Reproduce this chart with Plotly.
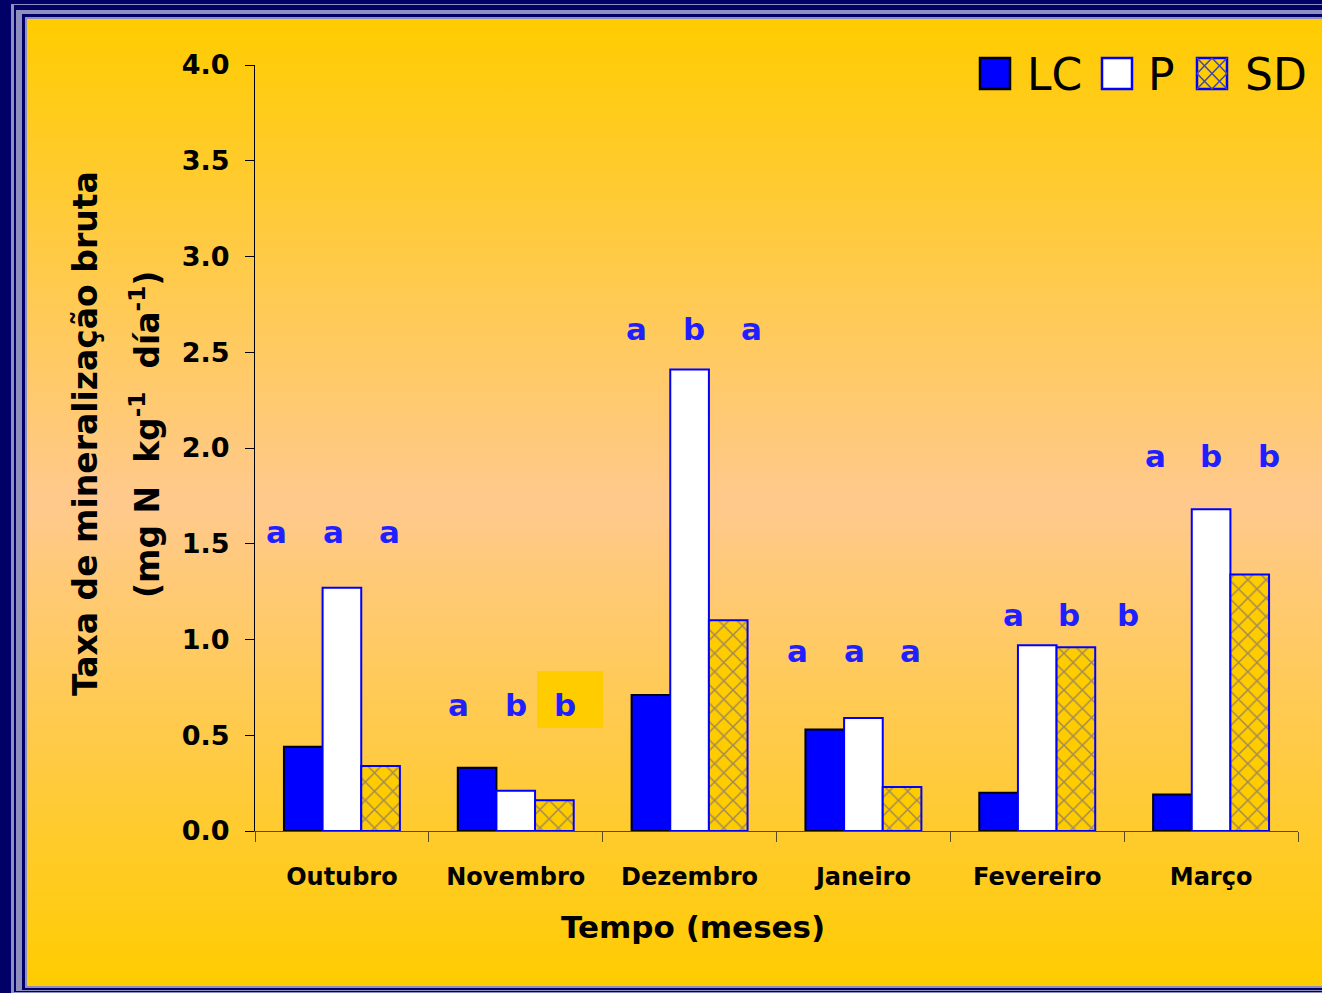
import base64
import plotly.graph_objects as go

# --- data -------------------------------------------------------------
meses = ["Outubro", "Novembro", "Dezembro", "Janeiro", "Fevereiro", "Março"]
lc = [0.44, 0.33, 0.71, 0.53, 0.20, 0.19]
p = [1.27, 0.21, 2.41, 0.59, 0.97, 1.68]
sd = [0.34, 0.16, 1.10, 0.23, 0.96, 1.34]

# significance letters per month (LC, P, SD)
letras = [
    ["a", "a", "a"],
    ["a", "b", "b"],
    ["a", "b", "a"],
    ["a", "a", "a"],
    ["a", "b", "b"],
    ["a", "b", "b"],
]
# letter placement (x offset from month centre, in category units; y in data units)
letras_dx = [
    [-0.374, -0.046, 0.276],
    [-0.33, 0.0, 0.284],
    [-0.305, 0.023, 0.356],
    [-0.379, -0.052, 0.27],
    [-0.138, 0.184, 0.523],
    [-0.322, 0.0, 0.333],
]
letras_y = [1.56, 0.66, 2.62, 0.94, 1.13, 1.96]

# --- geometry helpers (figure pixels -> paper coords) ----------------
W, H = 1322, 993
ML, MR, MT, MB = 255, 24, 65, 162
PW, PH = W - ML - MR, H - MT - MB


def px(x):
    return (x - ML) / PW


def py(y):
    return (H - MB - y) / PH


BLUE = "#0000FF"
NAVY = "#000066"
GREY = "#8F8FBF"
GOLD = "#FFCC00"
HATCH = "#4646A8"
TXT_BLUE = "#1F1FFF"
WIDE = "Comic Sans MS, DejaVu Sans, sans-serif"
BOLD = "DejaVu Sans, Verdana, sans-serif"

# background: framed slide with vertical gold/peach gradient
svg = f"""<svg xmlns="http://www.w3.org/2000/svg" width="{W}" height="{H}" viewBox="0 0 {W} {H}" preserveAspectRatio="none">
<defs><linearGradient id="g" x1="0" y1="0" x2="0" y2="1">
<stop offset="0" stop-color="#FFCC00"/><stop offset="0.5" stop-color="#FFC98E"/><stop offset="1" stop-color="#FFCC00"/>
</linearGradient></defs>
<rect x="0" y="0" width="{W}" height="{H}" fill="{NAVY}"/>
<rect x="11" y="4" width="1400" height="989" fill="{GREY}"/>
<rect x="14" y="5" width="1400" height="987" fill="{NAVY}"/>
<rect x="16" y="10" width="1400" height="981" fill="{GREY}"/>
<rect x="22" y="14" width="1400" height="976" fill="{NAVY}"/>
<rect x="25" y="17" width="1400" height="971" fill="{GREY}"/>
<rect x="27" y="19" width="1400" height="967" fill="url(#g)"/>
</svg>"""
bg_src = "data:image/svg+xml;base64," + base64.b64encode(svg.encode()).decode()

fig = go.Figure()

fig.add_trace(go.Bar(
    name="LC", x=meses, y=lc,
    marker=dict(color=BLUE, line=dict(color="black", width=2)),
))
fig.add_trace(go.Bar(
    name="P", x=meses, y=p,
    marker=dict(color="white", line=dict(color=BLUE, width=2)),
))
fig.add_trace(go.Bar(
    name="SD", x=meses, y=sd,
    marker=dict(
        color=GOLD,
        line=dict(color=BLUE, width=2),
        pattern=dict(shape="x", fgcolor=HATCH, bgcolor=GOLD, size=13, solidity=0.22),
    ),
))

annotations = []
for i, (trio, dxs, yy) in enumerate(zip(letras, letras_dx, letras_y)):
    for letra, dx in zip(trio, dxs):
        annotations.append(dict(
            x=i + dx, y=yy, xref="x", yref="y", text=letra, showarrow=False,
            font=dict(family=WIDE, size=31, color=TXT_BLUE, weight="bold"),
            xanchor="center", yanchor="middle",
        ))

# axis titles
annotations.append(dict(
    x=px(693), y=py(927), xref="paper", yref="paper", text="Tempo (meses)", showarrow=False,
    font=dict(family=WIDE, size=31, color="black", weight="bold"), xanchor="center", yanchor="middle",
))
annotations.append(dict(
    x=px(85), y=py(434), xref="paper", yref="paper", text="Taxa de mineralização bruta",
    showarrow=False, textangle=-90,
    font=dict(family=WIDE, size=33, color="black", weight="bold"), xanchor="center", yanchor="middle",
))
annotations.append(dict(
    x=px(145), y=py(435), xref="paper", yref="paper",
    text="(mg N  kg<sup>-1</sup>  día<sup>-1</sup>)",
    showarrow=False, textangle=-90,
    font=dict(family=WIDE, size=33, color="black", weight="bold"), xanchor="center", yanchor="middle",
))

# legend (drawn as shapes + text so swatches can be large)
shapes = []
sw_top, sw_bot = 58, 89
swatches = [
    ("LC", 980, 1010, 1025),
    ("P", 1102, 1132, 1146),
    ("SD", 1197, 1227, 1243),
]
for name, x0, x1, tx in swatches:
    if name == "LC":
        fill, line = BLUE, dict(color="black", width=2.5)
    elif name == "P":
        fill, line = "white", dict(color=BLUE, width=2.5)
    else:
        fill, line = GOLD, dict(color=BLUE, width=2.5)
    shapes.append(dict(type="rect", xref="paper", yref="paper",
                       x0=px(x0), x1=px(x1), y0=py(sw_bot), y1=py(sw_top),
                       fillcolor=fill, line=line, layer="above"))
    if name == "SD":
        s = x1 - x0
        h = sw_bot - sw_top
        segs = []
        for k in (0.5, 1.0, 1.5):
            # "/" diagonals
            ax, ay = x0 + max(0, k - 1) * s, sw_top + min(k, 1) * h
            bx, by = x0 + min(k, 1) * s, sw_top + max(0, k - 1) * h
            segs.append(f"M{px(ax)},{py(ay)} L{px(bx)},{py(by)}")
            # "\" diagonals
            ax, ay = x0 + max(0, k - 1) * s, sw_bot - min(k, 1) * h
            bx, by = x0 + min(k, 1) * s, sw_bot - max(0, k - 1) * h
            segs.append(f"M{px(ax)},{py(ay)} L{px(bx)},{py(by)}")
        shapes.append(dict(type="path", xref="paper", yref="paper", path=" ".join(segs),
                           line=dict(color=HATCH, width=1.5), layer="above"))
    annotations.append(dict(
        x=px(tx), y=py(75), xref="paper", yref="paper", text=name, showarrow=False,
        font=dict(family=WIDE, size=44, color="black"), xanchor="left", yanchor="middle",
    ))

# highlight box behind a letter in Novembro
shapes.append(dict(type="rect", xref="x", yref="y", x0=1.123, x1=1.502, y0=0.538, y1=0.836,
                   fillcolor=GOLD, line=dict(width=0), layer="below"))

fig.update_layout(
    width=W, height=H,
    margin=dict(l=ML, r=MR, t=MT, b=MB, pad=0),
    paper_bgcolor=NAVY,
    plot_bgcolor="rgba(0,0,0,0)",
    barmode="group",
    bargap=0.333,
    bargroupgap=0,
    showlegend=False,
    images=[dict(source=bg_src, xref="paper", yref="paper",
                 x=px(0), y=py(0), sizex=W / PW, sizey=H / PH,
                 xanchor="left", yanchor="top", sizing="stretch", layer="below")],
    shapes=shapes,
    annotations=annotations,
    xaxis=dict(
        type="category", showgrid=False, zeroline=False,
        showline=True, linecolor="#5A4A22", linewidth=1,
        ticks="outside", tickson="boundaries", ticklen=10, tickcolor="#5A4A22", tickwidth=1,
        ticklabelstandoff=24,
        tickfont=dict(family=BOLD, size=24, color="black", weight="bold"),
        range=[-0.5, 5.5],
    ),
    yaxis=dict(
        range=[0, 4], dtick=0.5, tickformat=".1f", showgrid=False, zeroline=False,
        showline=True, linecolor="black", linewidth=1,
        ticks="outside", ticklen=9, tickcolor="black", tickwidth=1,
        ticklabelstandoff=10,
        tickfont=dict(family=BOLD, size=27, color="black", weight="bold"),
    ),
)

fig.write_html("out.html")
